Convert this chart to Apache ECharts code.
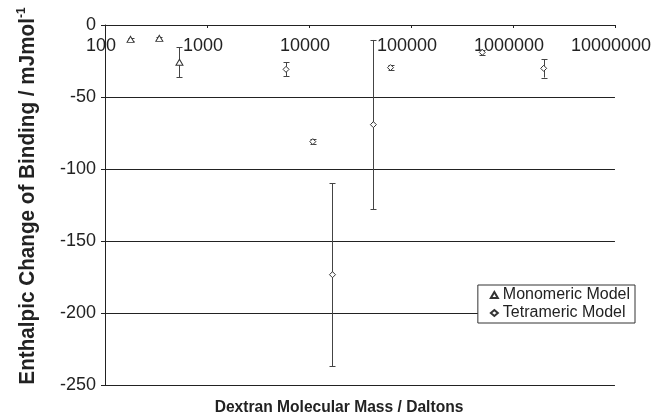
<!DOCTYPE html>
<html>
<head>
<meta charset="utf-8">
<script src="https://cdn.jsdelivr.net/npm/echarts@6/dist/echarts.min.js"></script>
<style>html,body{margin:0;padding:0;background:#fff;}#c{width:654px;height:418px;}</style>
</head>
<body>
<div id="c"></div>
<script>
// Data
const monoX = [178, 341, 537];
const monoY = [-10, -9.3, -25.9];
const monoErr = [1, 1, 10.3];

const tetraX = [5960, 10900, 17000, 42800, 63000, 500000, 2000000];
const tetraY = [-30.8, -81.0, -173.4, -69.2, -29.6, -19.0, -30.1];
const tetraErr = [4.9, 1.5, 63.4, 58.8, 1.5, 1.5, 6.4];

const xTickLabels = ['100', '1000', '10000', '100000', '1000000', '10000000'];
const yTickLabels = ['-250', '-200', '-150', '-100', '-50', '0'];

const FONT = '"Liberation Sans", Arial, sans-serif';
const INK = '#222';

function errData(xs, ys, es) {
  return xs.map((x, i) => [x, ys[i], es[i]]);
}
function ptData(xs, ys) {
  return xs.map((x, i) => [x, ys[i]]);
}
function renderErr(params, api) {
  const x = api.value(0), y = api.value(1), e = api.value(2);
  const p0 = api.coord([x, y + e]);
  const p1 = api.coord([x, y - e]);
  const cx = Math.round(p0[0]) + 0.5;
  const w = 3;
  const st = { stroke: '#444', lineWidth: 1 };
  return {
    type: 'group',
    children: [
      { type: 'line', shape: { x1: cx, y1: p0[1], x2: cx, y2: p1[1] }, style: st },
      { type: 'line', shape: { x1: cx - w, y1: Math.round(p0[1]) + 0.5, x2: cx + w, y2: Math.round(p0[1]) + 0.5 }, style: st },
      { type: 'line', shape: { x1: cx - w, y1: Math.round(p1[1]) + 0.5, x2: cx + w, y2: Math.round(p1[1]) + 0.5 }, style: st }
    ]
  };
}

const chart = echarts.init(document.getElementById('c'), null, { renderer: 'canvas' });
chart.setOption({
  animation: false,
  backgroundColor: '#fff',
  grid: { left: 105, right: 36, top: 25, bottom: 33, containLabel: false },
  xAxis: {
    type: 'log', logBase: 10, min: 100, max: 10000000,
    position: 'top',
    axisLine: { onZero: false, lineStyle: { color: INK, width: 1 } },
    axisTick: { inside: true, length: 3, lineStyle: { color: INK } },
    axisLabel: {
      inside: true, margin: 12, fontSize: 18, color: INK, fontFamily: FONT,
      padding: [0, 8, 0, 0],
      formatter: (v, i) => xTickLabels[i]
    },
    splitLine: { show: false },
    minorTick: { show: false }
  },
  yAxis: {
    type: 'value', min: -250, max: 0, interval: 50,
    axisLine: { show: true, lineStyle: { color: INK, width: 1 } },
    axisTick: { show: true, length: 4, lineStyle: { color: INK } },
    axisLabel: { fontSize: 18, margin: 9, color: INK, fontFamily: FONT,
      formatter: (v, i) => yTickLabels[i] },
    splitLine: { show: true, lineStyle: { color: INK, width: 1 } }
  },
  legend: {
    data: ['Monomeric Model', 'Tetrameric Model'],
    orient: 'vertical',
    right: 19, top: 285,
    backgroundColor: '#fff',
    borderColor: '#333', borderWidth: 1, borderRadius: 0,
    padding: [2, 5, 2, 12],
    itemGap: 2,
    itemWidth: 7, itemHeight: 6,
    textStyle: { fontSize: 16, color: INK, fontFamily: FONT }
  },
  graphic: [
    {
      type: 'text', x: 28, y: 196, rotation: Math.PI / 2, scaleY: 1.1,
      style: {
        text: '{a|Enthalpic Change of Binding / mJmol}{b|-1}',
        align: 'center', verticalAlign: 'middle',
        rich: {
          a: { fontSize: 20.7, fontWeight: 'bold', fontFamily: FONT, fill: INK, lineHeight: 24 },
          b: { fontSize: 12, fontWeight: 'bold', fontFamily: FONT, fill: INK, lineHeight: 12, verticalAlign: 'top' }
        }
      }
    },
    {
      type: 'text', x: 339, y: 408,
      style: {
        text: 'Dextran Molecular Mass / Daltons',
        align: 'center', verticalAlign: 'middle',
        fontSize: 15.6, fontWeight: 'bold', fontFamily: FONT, fill: INK
      }
    }
  ],
  series: [
    {
      type: 'custom', name: 'monoErr', renderItem: renderErr,
      data: errData(monoX, monoY, monoErr), encode: { x: 0, y: 1 }, z: 1, silent: true
    },
    {
      type: 'custom', name: 'tetraErr', renderItem: renderErr,
      data: errData(tetraX, tetraY, tetraErr), encode: { x: 0, y: 1 }, z: 1, silent: true
    },
    {
      type: 'scatter', name: 'Monomeric Model', data: ptData(monoX, monoY),
      symbol: 'triangle', symbolSize: [7, 6], z: 3,
      itemStyle: { color: '#fff', borderColor: '#333', borderWidth: 1, opacity: 1 }
    },
    {
      type: 'scatter', name: 'Tetrameric Model', data: ptData(tetraX, tetraY),
      symbol: 'diamond', symbolSize: 6, z: 3,
      itemStyle: { color: '#fff', borderColor: '#333', borderWidth: 1, opacity: 1 }
    }
  ]
});
</script>
</body>
</html>
